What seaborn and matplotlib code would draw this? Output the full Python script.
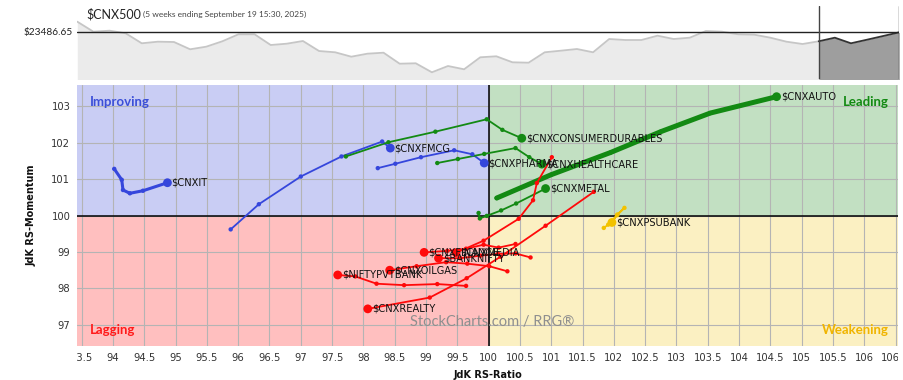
import matplotlib
matplotlib.use("Agg")
import matplotlib.pyplot as plt
from matplotlib.patches import Rectangle
from matplotlib.transforms import Bbox, TransformedBbox
import numpy as np
import pandas as pd
import seaborn as sns

# benchmark ($CNX500) weekly closes, last 5 weeks = tail period
price = [23752, 23502, 23527, 23462, 23212, 23252, 23244, 23062, 23127, 23262,
         23437, 23437, 23169, 23202, 23269, 23019, 22987, 22877, 22952, 22977,
         22702, 22712, 22487, 22644, 22562, 22862, 22887, 22737, 22727, 22987,
         23027, 23069, 22987, 23319, 23294, 23294, 23402, 23319, 23352, 23519,
         23502, 23437, 23427, 23352, 23252, 23194, 23262, 23352, 23212, 23302,
         23394, 23486.65]
tail_weeks = 5

# RRG tails: oldest -> newest (head)
names = ["$CNXIT", "$CNXFMCG", "$CNXPHARMA", "$CNXCONSUMERDURABLES", "$CNXHEALTHCARE",
         "$CNXMETAL", "$CNXAUTO", "$CNXPSUBANK", "$CNXOILGAS", "$BANKNIFTY",
         "$CNXFINANCE", "$CNXMEDIA", "$CNXREALTY", "$NIFTYPVTBANK"]

it_x = [94.02, 94.14, 94.16, 94.27, 94.48, 94.87]
it_y = [101.28, 100.98, 100.70, 100.61, 100.68, 100.90]
fmcg_x = [95.88, 96.33, 97.00, 97.65, 98.30, 98.43]
fmcg_y = [99.62, 100.31, 101.07, 101.62, 102.03, 101.85]
pharma_x = [98.23, 98.51, 98.92, 99.45, 99.74, 99.93]
pharma_y = [101.30, 101.42, 101.60, 101.79, 101.68, 101.44]
cdur_x = [97.72, 98.40, 99.15, 99.97, 100.22, 100.53]
cdur_y = [101.62, 102.01, 102.30, 102.64, 102.35, 102.12]
health_x = [99.18, 99.51, 99.93, 100.43, 100.65, 100.85]
health_y = [101.44, 101.55, 101.69, 101.85, 101.60, 101.41]
metal_x = [99.84, 99.86, 99.97, 100.20, 100.44, 100.91]
metal_y = [100.07, 99.92, 99.99, 100.14, 100.33, 100.74]
auto_x = [100.13, 101.00, 101.95, 102.75, 103.54, 104.60]
auto_y = [100.48, 101.12, 101.73, 102.30, 102.81, 103.26]
psub_x = [101.84, 101.91, 102.05, 102.17, 102.06, 101.97]
psub_y = [99.66, 99.75, 100.01, 100.21, 100.03, 99.81]
oil_x = [100.30, 100.01, 99.66, 99.32, 98.85, 98.42]
oil_y = [98.47, 98.61, 98.68, 98.72, 98.61, 98.50]
bank_x = [100.67, 100.43, 100.15, 99.87, 99.55, 99.20]
bank_y = [98.85, 98.96, 98.95, 98.90, 98.83, 98.83]
fin_x = [100.43, 100.16, 99.92, 99.64, 99.34, 98.97]
fin_y = [99.22, 99.12, 99.20, 99.09, 99.03, 98.99]
media_x = [101.01, 100.77, 100.71, 100.48, 99.92, 99.48]
media_y = [101.60, 100.89, 100.42, 99.91, 99.31, 98.98]
realty_x = [101.68, 100.91, 100.19, 99.65, 99.06, 98.07]
realty_y = [100.65, 99.72, 98.87, 98.28, 97.75, 97.44]
pvt_x = [99.64, 99.18, 98.65, 98.21, 97.87, 97.59]
pvt_y = [98.07, 98.12, 98.09, 98.13, 98.33, 98.37]

xs = [it_x, fmcg_x, pharma_x, cdur_x, health_x, metal_x, auto_x, psub_x,
      oil_x, bank_x, fin_x, media_x, realty_x, pvt_x]
ys = [it_y, fmcg_y, pharma_y, cdur_y, health_y, metal_y, auto_y, psub_y,
      oil_y, bank_y, fin_y, media_y, realty_y, pvt_y]

BLUE, GREEN, RED, GOLD = "#3546dc", "#138a13", "#ff0a0a", "#f2c200"
colors = [BLUE, BLUE, BLUE, GREEN, GREEN, GREEN, GREEN, GOLD,
          RED, RED, RED, RED, RED, RED]
widths = [2.2, 1.3, 1.3, 1.3, 1.3, 1.3, 3.6, 1.3, 1.3, 1.3, 1.3, 1.3, 1.3, 1.3]

sns.set_theme(style="white")
plt.rcParams["font.family"] = ["DejaVu Sans"]

fig = plt.figure(figsize=(9.04, 3.8), dpi=100)

# ---- benchmark strip on top
axp = fig.add_axes([0.0855, 0.7929, 0.9093, 0.1913])
idx = np.arange(len(price))
n0 = len(price) - 1 - tail_weeks
axp.fill_between(idx[:n0 + 1], price[:n0 + 1], 20000, color="#ebebeb", lw=0)
sns.lineplot(x=idx[:n0 + 1], y=price[:n0 + 1], ax=axp, color="#c6c6c6", lw=1.3)
axp.fill_between(idx[n0:], price[n0:], 20000, color="#9e9e9e", lw=0)
sns.lineplot(x=idx[n0:], y=price[n0:], ax=axp, color="#333333", lw=1.3)
axp.axhline(price[-1], color="#222222", lw=1.0)
axp.axvline(n0, color="#444444", lw=1.0)
axp.axvline(idx[-1], color="#444444", lw=1.0)
axp.set_xlim(0, idx[-1])
axp.set_ylim(22327, 24144)
axp.axis("off")
axp.text(-0.006, price[-1], "$23486.65", transform=axp.get_yaxis_transform(),
         ha="right", va="center", fontsize=7.3, family="Lato", color="#222222")

fig.text(0.0955, 0.963, "$CNX500", fontsize=9.0, family="Lato", color="#222222",
         va="center")
fig.text(0.1585, 0.961, "(5 weeks ending September 19 15:30, 2025)", fontsize=6,
         family="Lato", color="#444444", va="center")

# ---- RRG
ax = fig.add_axes([0.0855, 0.0903, 0.9079, 0.686])
x0, x1, y0, y1 = 93.43, 106.54, 96.43, 103.58
quads = [(x0, 100, 100, y1, "#c9cdf4"), (100, x1, 100, y1, "#c2e0c2"),
         (x0, 100, y0, 100, "#ffbfbf"), (100, x1, y0, 100, "#fbf0c2")]
for a, b, c, d, col in quads:
    ax.add_patch(Rectangle((a, c), b - a, d - c, color=col, zorder=0, lw=0))

ax.set_xlim(x0, x1)
ax.set_ylim(y0, y1)
xt = np.arange(93.5, 106.51, 0.5)
ax.set_xticks(xt)
ax.set_xticklabels([f"{v:g}" for v in xt])
ax.set_yticks(range(97, 104))
ax.grid(True, color="#b4b4b4", lw=0.8, zorder=0.5)
ax.set_axisbelow(True)
for s in ax.spines.values():
    s.set_visible(False)
ax.tick_params(axis="both", length=3, color="#aaaaaa", labelsize=7.2,
               labelcolor="#333333", pad=2)
clip = TransformedBbox(Bbox([[0, -1], [1, 0]]), ax.transAxes)
for lbl in ax.get_xticklabels():
    lbl.set_clip_box(clip)
    lbl.set_clip_on(True)
ax.axvline(100, color="black", lw=1.1, zorder=1)
ax.axhline(100, color="black", lw=1.1, zorder=1)

for name, tx, ty, col, lw in zip(names, xs, ys, colors, widths):
    sns.lineplot(x=tx, y=ty, sort=False, estimator=None, ax=ax, color=col,
                 lw=lw, zorder=3)
    sns.scatterplot(x=tx[:-1], y=ty[:-1], ax=ax, color=col, s=10,
                    edgecolor="none", zorder=4)
    sns.scatterplot(x=tx[-1:], y=ty[-1:], ax=ax, color=col, s=40,
                    edgecolor="none", zorder=5)
    ax.annotate(name.replace("$", r"\$"), (tx[-1], ty[-1]), xytext=(3, 0),
                textcoords="offset points", va="center", ha="left",
                fontsize=7.1, color="#111111", zorder=6)

ax.text(0.0155, 0.935, "Improving", transform=ax.transAxes, color="#3b4fd8",
        fontsize=9.5, family="Lato", weight="bold", va="center")
ax.text(0.989, 0.935, "Leading", transform=ax.transAxes, color=GREEN,
        fontsize=9.5, family="Lato", weight="bold", va="center", ha="right")
ax.text(0.0155, 0.06, "Lagging", transform=ax.transAxes, color="#ff1a1a",
        fontsize=9.5, family="Lato", weight="bold", va="center")
ax.text(0.989, 0.06, "Weakening", transform=ax.transAxes, color="#f0b400",
        fontsize=9.5, family="Lato", weight="bold", va="center", ha="right")
ax.text(0.505, 0.09, "StockCharts.com / RRG\u00ae", transform=ax.transAxes,
        color="#8f8f8f", fontsize=10.5, family="Lato", ha="center", va="center")

ax.set_xlabel("JdK RS-Ratio", fontsize=7, weight="bold", color="#111111",
              labelpad=5)
ax.set_ylabel("JdK RS-Momentum", fontsize=7, weight="bold", color="#111111",
              labelpad=11)

fig.savefig("out.png", dpi=100)
